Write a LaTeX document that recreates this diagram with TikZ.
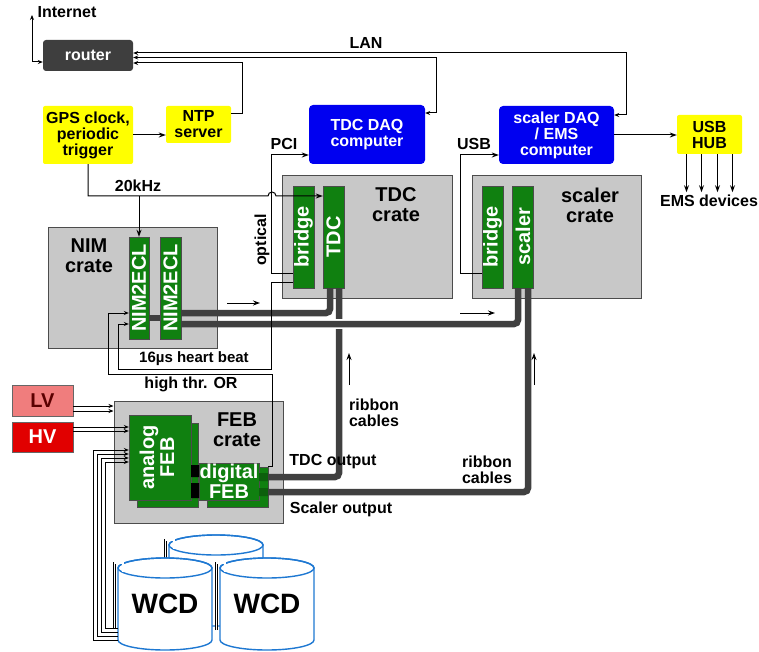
\documentclass[tikz,border=0pt]{standalone}
\usepackage{fontspec}
\setmainfont{Liberation Sans}
\usetikzlibrary{arrows.meta,positioning,calc}
\definecolor{routergray}{RGB}{62,62,62}
\definecolor{gpsyellow}{RGB}{255,255,0}
\definecolor{pcblue}{RGB}{0,0,240}
\definecolor{crategray}{RGB}{200,200,200}
\definecolor{boardgreen}{RGB}{16,128,16}
\definecolor{cablegray}{RGB}{64,64,64}
\definecolor{lvpink}{RGB}{240,125,125}
\definecolor{lvtext}{RGB}{90,0,0}
\definecolor{hvred}{RGB}{225,0,0}
\definecolor{tankblue}{RGB}{30,120,210}

\begin{document}
\begin{tikzpicture}[x=1pt, y=-1pt, >={Stealth[length=7pt, width=5pt]},
    box/.style={rectangle, inner sep=0pt, align=center, font=\bfseries\fontsize{16}{16}\selectfont},
    computer/.style={box, fill=pcblue, text=white, rounded corners=4pt},
    yellowbox/.style={box, fill=gpsyellow, rounded corners=2pt},
    supply/.style={box, draw=black!60, minimum width=61, font=\bfseries\fontsize{20}{20}\selectfont},
    crate/.style={rectangle, draw=black!70, fill=crategray, line width=1pt},
    cratename/.style={align=center, inner sep=0pt, font=\bfseries\fontsize{20}{20}\selectfont},
    module/.style={rectangle, draw=black!70, fill=boardgreen, text=white, inner sep=0pt, minimum width=21, minimum height=102, font=\bfseries\fontsize{20}{20}\selectfont},
    board/.style={rectangle, draw=black!70, fill=boardgreen, text=white, inner sep=0pt, align=center, font=\bfseries\fontsize{20}{20}\selectfont},
    note/.style={inner sep=1pt, align=left, font=\bfseries\fontsize{16}{16}\selectfont},
    wire/.style={draw, line width=1pt},
    small tips/.style={>={Stealth[length=5pt, width=4pt]}},
    cable/.style={draw=cablegray, line width=6.5pt, rounded corners=4pt},
    hose/.style={draw, line width=0.7pt, double=white, double distance=1.4pt},
    tank/.style={draw=tankblue, fill=white, line width=1.4pt}]

    \useasboundingbox (0,0) rectangle (759,652);

    \node[box, fill=routergray, text=white, rounded corners=3pt, minimum width=90, minimum height=31] (router) at (88,55.5) {router};
    \node[note] (internet) at (67,12) {Internet};
    \coordinate (web) at (32,15);
    \node[note] (lan) at (366,43) {LAN};

    \node[yellowbox, minimum width=90, minimum height=58] (gps) at (88,135) {GPS clock,\\periodic\\trigger};
    \node[yellowbox, minimum width=65, minimum height=37] (ntp) at (198.5,124.5) {NTP\\server};
    \node[computer, minimum width=116, minimum height=59] (tdcpc) at (367,134.5) {TDC DAQ\\computer};
    \node[computer, minimum width=115, minimum height=58] (scalpc) at (556.5,135) {scaler DAQ\\/ EMS\\computer};
    \node[yellowbox, minimum width=65, minimum height=39] (hub) at (709.5,134.5) {USB\\HUB};
    \node[note] (ems) at (709,201) {EMS devices};

    \node[crate, minimum width=170, minimum height=122] (tdccrate) at (367,237) {};
    \node[cratename] (tdcname) at (396,205) {TDC\\crate};
    \node[module] (bridgeA) at (303.5,237) {\rotatebox{90}{bridge}};
    \node[module] (tdc) at (333.5,237) {\rotatebox{90}{TDC}};

    \node[crate, minimum width=169, minimum height=122] (scalcrate) at (556.5,237) {};
    \node[cratename] (scalname) at (590,205) {scaler\\crate};
    \node[module] (bridgeB) at (492.5,237) {\rotatebox{90}{bridge}};
    \node[module] (scaler) at (523,237) {\rotatebox{90}{scaler}};

    \node[crate, minimum width=169, minimum height=121] (nimcrate) at (132.5,287.5) {};
    \node[cratename] (nimname) at (89,256) {NIM\\crate};
    \node[module, minimum width=20] (nimA) at (139,288) {\rotatebox{90}{NIM2ECL}};
    \node[module] (nimB) at (170.5,288) {\rotatebox{90}{NIM2ECL}};

    \node[crate, minimum width=169, minimum height=122] (febcrate) at (198.5,462) {};
    \node[cratename] (febname) at (237,430) {FEB\\crate};
    \node[board, minimum width=61, minimum height=84] (analogback) at (167.5,465) {};
    \node[board, minimum width=62, minimum height=85] (analog) at (160,457.5) {\rotatebox{90}{\begin{tabular}{@{}c@{}}analog\\FEB\end{tabular}}};
    \node[board, minimum width=61, minimum height=40] (digitalback) at (237.5,487) {};
    \node[board, minimum width=60, minimum height=37] (digital) at (229,481.5) {digital\\FEB};
    \fill[boardgreen!75!black] (259,473) rectangle (268,481) (259,488) rectangle (268,496);
    \fill[black] (191,465) rectangle (199,477) (191,483) rectangle (199,498);

    \node[supply, fill=lvpink, text=lvtext, minimum height=31] (lv) at (42.5,400.5) {LV};
    \node[supply, fill=hvred, text=white, minimum height=30] (hv) at (42.5,437) {HV};

    \foreach \x/\y/\h/\b in {216/545/71/600, 165/568/72/628, 267/568/72/630} {
        \filldraw[tank] (\x-47,\y) -- ++(0,\h) arc[start angle=180, end angle=0, x radius=47, y radius=10] -- (\x+47,\y) arc[start angle=0, end angle=-180, x radius=47, y radius=10] -- cycle;
        \draw[tank, fill=none] (\x,\y) ellipse[x radius=47, y radius=10];
        \draw[hose] (\x-50.5,\b) -- (\x-50.5,\y-5) -- (\x-42,\y-5) -- (\x-42,\y+4);
    }
    \node[font=\bfseries\fontsize{28}{28}\selectfont] (wcdA) at (165,604) {WCD};
    \node[font=\bfseries\fontsize{28}{28}\selectfont] (wcdB) at (267,604) {WCD};

    \foreach \i in {0,...,3}
        \draw[wire, small tips, line width=0.8pt, ->] ({118},{640-4*\i}) -| ({93+4*\i},{450+4*\i}) -- (analog.west |- 0,{450+4*\i});

    \draw[cable] ($(nimA.east)+(0,30)$) -- ($(nimB.west)+(0,30)$);
    \draw[cable] ($(digitalback.east)+(0,-10)$) -| ($(tdc.south)+(5.5,0)$);
    \draw[white, line width=10pt] (333,324) -- (345,324);
    \draw[cable] ($(nimB.east)+(0,36)$) -| ($(scaler.south)+(-5,0)$);
    \draw[cable] ($(nimB.east)+(0,25)$) -| ($(tdc.south)+(-3.5,0)$);
    \draw[cable] ($(digitalback.east)+(0,5)$) -| ($(scaler.south)+(5,0)$);

    \draw[wire, small tips, <->] (web) |- ($(router.west)+(0,6.5)$);
    \draw[wire, small tips, <->] ($(router.east)+(0,-2.5)$) -| ($(scalpc.east)+(12,-20)$) -- ($(scalpc.east)+(0,-20)$);
    \draw[wire, small tips, <->] ($(router.east)+(0,2)$) -| ($(tdcpc.east)+(11,-21.5)$) -- ($(tdcpc.east)+(0,-21.5)$);
    \draw[wire, small tips, <-] ($(router.east)+(0,7.5)$) -| ($(ntp.east)+(11,-10.5)$) -- ($(ntp.east)+(0,-10.5)$);

    \draw[wire, ->] (gps.east) -- (gps.east -| ntp.west);
    \draw[wire, ->] (gps.south) |- (268,196) arc[start angle=180, end angle=360, radius=4] -- (tdc.west |- 0,196);
    \draw[wire, ->] (nimA.north |- 0,196) -- (nimA.north);
    \node[note] (khz) at (138,186) {20kHz};

    \draw[wire, ->] ($(bridgeA.west)+(0,36)$) -- ++(-21,0) |- ($(tdcpc.west)+(0,20.5)$);
    \node[note] (pci) at (284,144) {PCI};
    \node[note, rotate=90] (optical) at (262,240) {optical};
    \draw[wire, ->] ($(bridgeB.west)+(0,36)$) -- ++(-21,0) |- ($(scalpc.west)+(0,20)$);
    \node[note] (usb) at (474,144) {USB};

    \draw[wire, ->] (scalpc.east) -- (scalpc.east -| hub.west);
    \foreach \dx in {-23,-8,8,23}
        \draw[wire, ->] ($(hub.south)+(\dx,0)$) -- ++(0,38);

    \draw[wire, small tips, ->] ($(bridgeA.west)+(0,45)$) -- ++(-21,0) |- (118,369) |- ($(nimA.west)+(0,36)$);
    \node[note, font=\bfseries\fontsize{15}{15}\selectfont] (beat) at (194,359) {16µs heart beat};
    \draw[wire, small tips, ->] (digitalback.north east) -| (272,374) -- (108,374) |- ($(nimA.west)+(0,25)$);
    \node[note] (thr) at (191,384) {high thr. OR};

    \foreach \yy in {406,411}
        \draw[wire, small tips, line width=0.8pt, ->] (lv.east |- 0,\yy) -- (febcrate.west |- 0,\yy);
    \foreach \yy in {427,431}
        \draw[wire, small tips, line width=0.8pt, ->] (hv.east |- 0,\yy) -- (analog.west |- 0,\yy);

    \coordinate (flowA) at (227,303);
    \coordinate (flowB) at (460,313);
    \coordinate (flowC) at (349,385);
    \coordinate (flowD) at (534,385);
    \draw[wire, ->] (flowA) -- ++(33,0);
    \draw[wire, ->] (flowB) -- ++(35,0);
    \draw[wire, ->] (flowC) -- ++(0,-32);
    \draw[wire, ->] (flowD) -- ++(0,-32);

    \node[note] (ribbonA) at (374,413) {ribbon\\cables};
    \node[note] (ribbonB) at (487,470) {ribbon\\cables};
    \node[note] (tdcout) at (333,462) {TDC output};
    \node[note] (scalout) at (341,509) {Scaler output};
\end{tikzpicture}
\end{document}
